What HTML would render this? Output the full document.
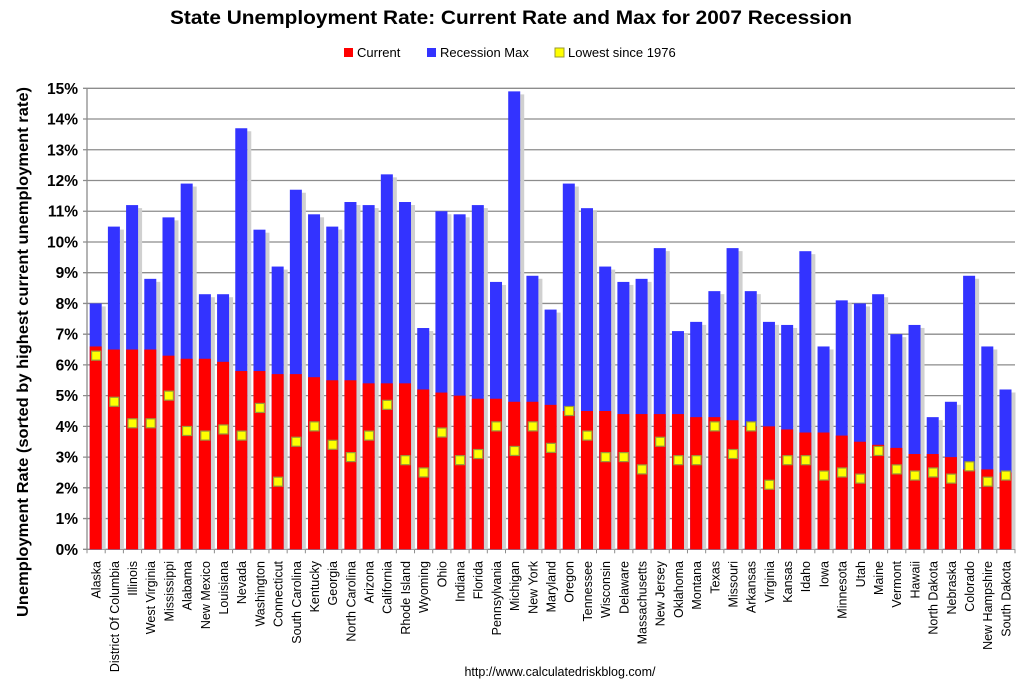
<!DOCTYPE html>
<html><head><meta charset="utf-8"><style>
html,body{margin:0;padding:0;background:#fff;}
svg{display:block;font-family:"Liberation Sans",sans-serif;}
</style></head><body>
<svg id="chart" width="1019" height="693" viewBox="0 0 1019 693" xmlns="http://www.w3.org/2000/svg">
<text x="511" y="24" text-anchor="middle" font-size="19.5" font-weight="bold" textLength="682" lengthAdjust="spacingAndGlyphs">State Unemployment Rate: Current Rate and Max for 2007 Recession</text>
<g font-size="13">
  <g><rect x="344" y="48" width="9" height="9" fill="#ff0000"/><text x="357" y="57">Current</text></g>
  <g><rect x="427" y="48" width="9" height="9" fill="#3333ff"/><text x="440" y="57">Recession Max</text></g>
  <g><rect x="555" y="48" width="9" height="9" fill="#ffff00" stroke="#999933"/><text x="568" y="57">Lowest since 1976</text></g>
</g>
<text transform="translate(28,352) rotate(-90)" text-anchor="middle" font-size="16" font-weight="bold" textLength="530" lengthAdjust="spacingAndGlyphs">Unemployment Rate (sorted by highest current unemployment rate)</text>
<text x="560" y="676" text-anchor="middle" font-size="12.5">http://www.calculatedriskblog.com/</text>
<g id="grid"></g><g id="bars"></g><g id="marks"></g><g id="axes"></g>
</svg>
<script>
const states=["Alaska","District Of Columbia","Illinois","West Virginia","Mississippi","Alabama","New Mexico","Louisiana","Nevada","Washington","Connecticut","South Carolina","Kentucky","Georgia","North Carolina","Arizona","California","Rhode Island","Wyoming","Ohio","Indiana","Florida","Pennsylvania","Michigan","New York","Maryland","Oregon","Tennessee","Wisconsin","Delaware","Massachusetts","New Jersey","Oklahoma","Montana","Texas","Missouri","Arkansas","Virginia","Kansas","Idaho","Iowa","Minnesota","Utah","Maine","Vermont","Hawaii","North Dakota","Nebraska","Colorado","New Hampshire","South Dakota"];
const currentRate=[6.6,6.5,6.5,6.5,6.3,6.2,6.2,6.1,5.8,5.8,5.7,5.7,5.6,5.5,5.5,5.4,5.4,5.4,5.2,5.1,5.0,4.9,4.9,4.8,4.8,4.7,4.5,4.5,4.5,4.4,4.4,4.4,4.4,4.3,4.3,4.2,4.0,4.0,3.9,3.8,3.8,3.7,3.5,3.4,3.3,3.1,3.1,3.0,2.6,2.6,2.5];
const recessionMax=[8.0,10.5,11.2,8.8,10.8,11.9,8.3,8.3,13.7,10.4,9.2,11.7,10.9,10.5,11.3,11.2,12.2,11.3,7.2,11.0,10.9,11.2,8.7,14.9,8.9,7.8,11.9,11.1,9.2,8.7,8.8,9.8,7.1,7.4,8.4,9.8,8.4,7.4,7.3,9.7,6.6,8.1,8.0,8.3,7.0,7.3,4.3,4.8,8.9,6.6,5.2];
const lowestSince1976=[6.3,4.8,4.1,4.1,5.0,3.85,3.7,3.9,3.7,4.6,2.2,3.5,4.0,3.4,3.0,3.7,4.7,2.9,2.5,3.8,2.9,3.1,4.0,3.2,4.0,3.3,4.5,3.7,3.0,3.0,2.6,3.5,2.9,2.9,4.0,3.1,4.0,2.1,2.9,2.9,2.4,2.5,2.3,3.2,2.6,2.4,2.5,2.3,2.7,2.2,2.4];
const yTicks=[0,1,2,3,4,5,6,7,8,9,10,11,12,13,14,15];
const NS="http://www.w3.org/2000/svg";
const X0=87,X1=1015,Y0=549.3,YT=88.3,YMAX=15;
const slot=(X1-X0)/states.length;
function y(v){return Y0-(v/YMAX)*(Y0-YT);}
function x(i){return X0+i*slot;}
function mk(tag,attrs,parent){const e=document.createElementNS(NS,tag);for(const k in attrs)e.setAttribute(k,attrs[k]);document.getElementById(parent).appendChild(e);return e;}
yTicks.forEach(t=>{
  const l=mk('line',{x1:X0-4,x2:X1,y1:y(t),y2:y(t),stroke:'#8c8c8c','stroke-width':1.3},'grid');
  
  
  const tx=mk('text',{x:X0-9,y:y(t)+5.5,'text-anchor':'end','font-size':15.5,'font-weight':'bold'},'axes');
  tx.textContent=t+'%';
  
  
});
mk('line',{x1:X0,x2:X0,y1:YT,y2:Y0,stroke:'#8c8c8c','stroke-width':1.3},'axes');
states.forEach((s,i)=>{
  const bx=x(i)+2.7,bw=12;
  const sh=mk('rect',{x:bx+bw,y:y(recessionMax[i])+3,width:4,height:Y0-y(recessionMax[i])-3,fill:'#d0d0d0'},'bars');
  
  
  const b=mk('rect',{x:bx,y:y(recessionMax[i]),width:bw,height:Y0-y(recessionMax[i]),fill:'#3333ff'},'bars');
  
  
  const r=mk('rect',{x:bx,y:y(currentRate[i]),width:bw,height:Y0-y(currentRate[i]),fill:'#ff0000'},'bars');
  
  
  const m=mk('rect',{x:x(i)+slot/2-4.5,y:y(lowestSince1976[i])-4.5,width:9,height:9,fill:'#ffff00',stroke:'#9a9a3a','stroke-width':1.2},'marks');
  
  
  const tk=mk('line',{x1:x(i),x2:x(i),y1:Y0,y2:Y0+4,stroke:'#8c8c8c'},'axes');
  
  
  const cx=x(i)+slot/2+4.5;
  const lt=mk('text',{transform:'translate('+cx+',561) rotate(-90)','text-anchor':'end','font-size':12.5},'axes');
  lt.textContent=s;
  
  
});
mk('line',{x1:X1,x2:X1,y1:Y0,y2:Y0+4,stroke:'#8c8c8c'},'axes');
</script>
</body></html>
